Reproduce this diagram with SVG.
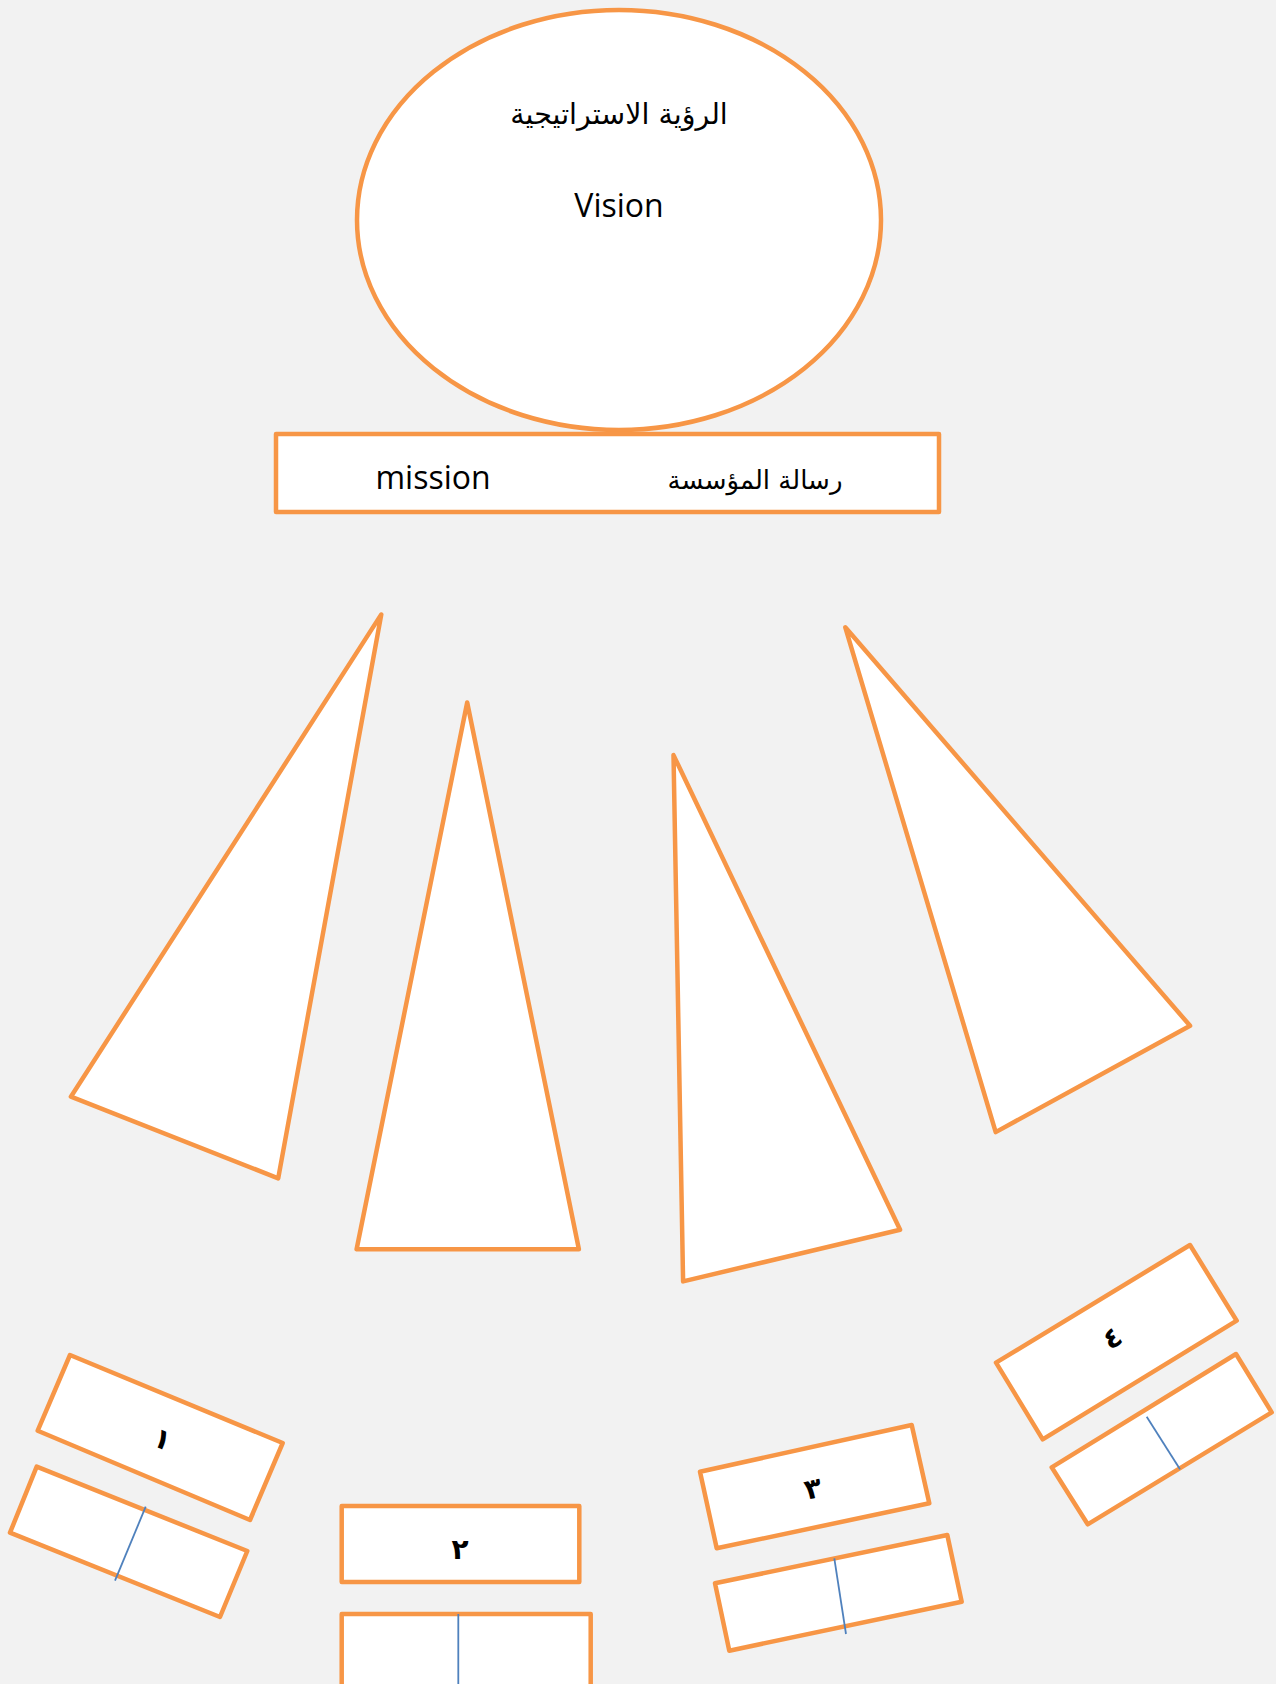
<svg xmlns="http://www.w3.org/2000/svg" width="1276" height="1684" viewBox="0 0 1276 1684">
<style>
.s{fill:#fff;stroke:#F79646;stroke-width:4.5;stroke-linejoin:round}
.d{stroke:#4F81BD;stroke-width:1.8;fill:none}
.lat{font-family:"Open Sans","Liberation Sans",sans-serif;font-size:32px;fill:#000}
.ar{font-family:"DejaVu Sans","Noto Sans",sans-serif;font-size:26px;fill:#000}
.num{font-family:"DejaVu Sans","Noto Sans",sans-serif;font-size:28px;font-weight:bold;fill:#000;text-anchor:middle}
</style>
<rect width="1276" height="1684" fill="#F2F2F2"/>
<g id="vision">
<ellipse class="s" cx="619" cy="220" rx="262" ry="210"/>
<text class="ar" x="619" y="124" text-anchor="middle" direction="rtl" style="font-size:28.5px">الرؤية الاستراتيجية</text>
<text class="lat" x="619" y="217" text-anchor="middle">Vision</text>
</g>
<g id="mission">
<rect class="s" x="276" y="434" width="663" height="78"/>
<text class="lat" x="433" y="489" text-anchor="middle">mission</text>
<text class="ar" x="755" y="489" text-anchor="middle" direction="rtl">رسالة المؤسسة</text>
</g>
<g id="tri1"><polygon class="s" points="381.3,614.4 70.9,1096.7 278.2,1178.3"/></g>
<g id="tri2"><polygon class="s" points="467.2,702.5 356.6,1249.2 578.9,1249.2"/></g>
<g id="tri3"><polygon class="s" points="673.5,755.1 683.1,1281.4 900.1,1229.8"/></g>
<g id="tri4"><polygon class="s" points="845.3,627.3 995.7,1132.1 1190.1,1025.8"/></g>
<g id="box1">
<polygon class="s" points="70,1355 282.7,1443 250,1520 37.7,1430.7"/>
<text class="num" transform="translate(159,1448) rotate(22.4)">١</text>
</g>
<g id="box1b">
<polygon class="s" points="36.7,1466.7 247.3,1551 220,1617 10,1532.7"/>
<line class="d" x1="145.7" y1="1506.7" x2="115" y2="1580.7"/>
</g>
<g id="box2">
<rect class="s" x="341.7" y="1506" width="237.6" height="76"/>
<text class="num" x="460" y="1559">٢</text>
</g>
<g id="box2b">
<rect class="s" x="341.7" y="1614" width="249" height="90"/>
<line class="d" x1="458.3" y1="1614" x2="458.3" y2="1684"/>
</g>
<g id="box3">
<polygon class="s" points="700,1471.7 911.7,1425 929.3,1503.3 716.7,1548.3"/>
<text class="num" transform="translate(815,1498) rotate(-12.4)">٣</text>
</g>
<g id="box3b">
<polygon class="s" points="715,1583.3 947.3,1535 961.7,1601.7 729.3,1650.7"/>
<line class="d" x1="834.3" y1="1558.3" x2="846" y2="1634"/>
</g>
<g id="box4">
<polygon class="s" points="996,1362.7 1190,1245 1236.7,1320.7 1042.7,1439.3"/>
<text class="num" transform="translate(1117,1346) rotate(-31.2)">٤</text>
</g>
<g id="box4b">
<polygon class="s" points="1051.7,1467.3 1236,1354 1271.7,1412.3 1087.7,1524.3"/>
<line class="d" x1="1146.7" y1="1416.7" x2="1180" y2="1469.3"/>
</g>
</svg>
